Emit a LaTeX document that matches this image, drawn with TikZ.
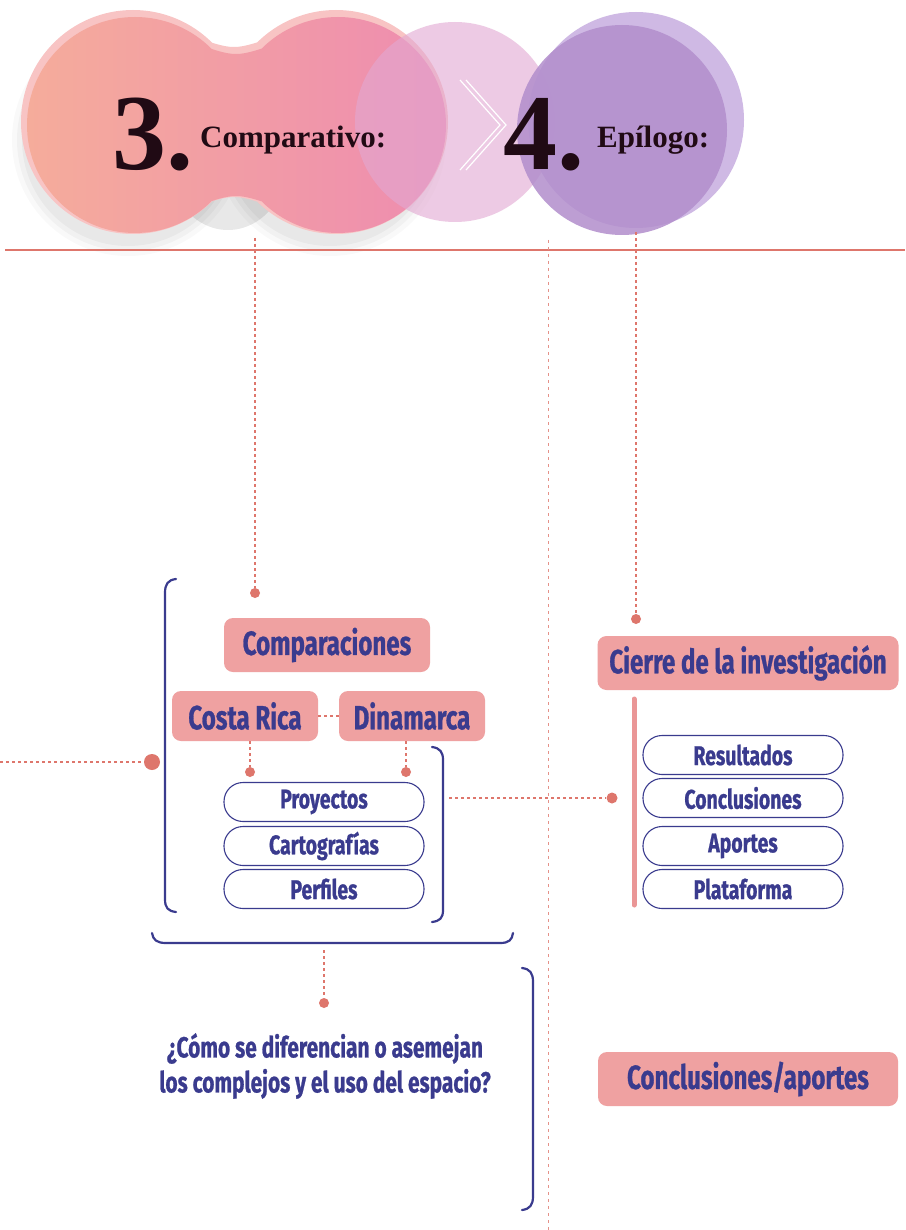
\documentclass[tikz,border=0pt]{standalone}
\usepackage{fontspec}
\usetikzlibrary{calc}
\newfontfamily\cond[FakeStretch=0.72, FakeBold=0.8]{Fira Sans}
\newfontfamily\headserif{Liberation Serif}
\definecolor{navy}{RGB}{58,59,142}
\definecolor{boxpink}{RGB}{239,161,161}
\definecolor{salmon}{RGB}{222,118,108}
\definecolor{barpink}{RGB}{234,150,150}
\definecolor{peachL}{RGB}{245,172,155}
\definecolor{peachR}{RGB}{238,140,176}
\definecolor{peachrim}{RGB}{248,196,196}
\definecolor{lilac}{RGB}{226,168,210}
\definecolor{purple}{RGB}{178,142,204}
\definecolor{purplerim}{RGB}{202,178,226}
\definecolor{ink}{RGB}{32,10,20}
\begin{document}
\begin{tikzpicture}[x=1pt,y=-1pt,
  pinkbox/.style={fill=boxpink, rounded corners=9pt, inner sep=0pt, text=navy,
    font=\cond\bfseries\fontsize{33.5}{36}\selectfont},
  pill/.style={draw=navy, line width=1.1pt, fill=white, rounded corners=19pt,
    minimum width=200pt, minimum height=39pt, inner sep=0pt, text=navy,
    font=\cond\bfseries\fontsize{27}{30}\selectfont},
  dots/.style={draw=salmon, line width=1.4pt, dash pattern=on 3pt off 3pt},
  faintdots/.style={draw=salmon!80, line width=1pt, dash pattern=on 3pt off 4pt},
  dotend/.style={circle, fill=salmon, inner sep=0pt, minimum size=10pt},
  bigdot/.style={circle, fill=salmon, inner sep=0pt, minimum size=16pt},
  bracket/.style={draw=navy, line width=2.2pt, line cap=round},
  head/.style={anchor=base west, text=ink, inner sep=0pt}]

\useasboundingbox (0,0) rectangle (905,1230);
\fill[white] (0,0) rectangle (905,1230);

% soft shadow under the bubbles
\foreach \r/\o in {116/0.025,111/0.03,106/0.035}{
  \fill[black, opacity=\o] (128,140) circle (\r);
  \fill[black, opacity=\o] (330,140) circle (\r);
  \fill[black, opacity=\o] (228,160) ellipse (60 and 70);
}

% bubble 3: two merged lobes
\def\peanut{(135,125) circle (108) (338,125) circle (108)
  (185,40) .. controls (212,49) and (224,54) .. (236,54) .. controls (248,54) and (260,49) .. (288,40)
  -- (288,210) .. controls (260,201) and (248,196) .. (236,196) .. controls (224,196) and (212,201) .. (185,210) -- cycle}
\fill[peachrim] [shift={(-2,-3)}] (135,125) circle (112) (338,125) circle (112)
  (185,36) .. controls (212,45) and (224,50) .. (236,50) .. controls (248,50) and (260,45) .. (288,36)
  -- (288,214) .. controls (260,205) and (248,200) .. (236,200) .. controls (224,200) and (212,205) .. (185,214) -- cycle;
\shade[left color=peachL, right color=peachR, nonzero rule] \peanut;

% middle bubble and bubble 4
\fill[lilac, opacity=0.6] (455,122) circle (100);
\fill[purplerim, opacity=0.9] (636,120) circle (108);
\fill[purple, opacity=0.85] (622,130) circle (105);

% chevron between the bubbles
\draw[white, line width=1.2pt] (460,80) -- (500,125) -- (460,170);
\draw[white, line width=1.2pt] (466,80) -- (506,125) -- (466,170);

% headings
\node[head, font=\headserif\bfseries\fontsize{108}{108}\selectfont] (n3) at (112,170) {3.};
\node[head, font=\headserif\bfseries\fontsize{31}{31}\selectfont] (h3) at (200,148) {Comparativo:};
\node[head, font=\headserif\bfseries\fontsize{108}{108}\selectfont] (n4) at (503,170) {4.};
\node[head, font=\headserif\bfseries\fontsize{31}{31}\selectfont] (h4) at (597,148) {Epílogo:};

% rule under the headings
\draw[salmon, line width=2pt] (5,250) -- (905,250);

% boxes
\node[pinkbox, minimum width=206pt, minimum height=54pt] (comp) at (327,645) {Comparaciones};
\node[pinkbox, minimum width=146pt, minimum height=50pt] (cr) at (245,716) {Costa Rica};
\node[pinkbox, minimum width=146pt, minimum height=50pt] (dk) at (412,716) {Dinamarca};
\node[pinkbox, minimum width=301pt, minimum height=54pt] (cierre) at (748,663) {Cierre de la investigación};
\node[pinkbox, minimum width=300pt, minimum height=54pt] (concl) at (748,1079) {Conclusiones/aportes};

% pills
\node[pill] (proy) at (324,802) {Proyectos};
\node[pill] (carto) at (324,846) {Cartografías};
\node[pill] (perf) at (324,889) {Perfiles};
\node[pill] (res) at (743,755) {Resultados};
\node[pill] (con) at (743,798) {Conclusiones};
\node[pill] (apo) at (743,846) {Aportes};
\node[pill] (pla) at (743,889) {Plataforma};

% question
\node[text=navy, align=center, font=\cond\bfseries\fontsize{29}{35}\selectfont] (q) at (325,1066)
  {¿Cómo se diferencian o asemejan\\los complejos y el uso del espacio?};

% pink bar beside the closing list
\draw[barpink, line width=5pt, line cap=round] (634,699) -- (634,905);

% brackets
\draw[bracket] (176,579) .. controls (168,580) and (165,584) .. (165,593) -- (165,899) .. controls (165,908) and (168,911) .. (176,912);
\draw[bracket] (432,747) .. controls (440,748) and (443,752) .. (443,760) -- (443,910) .. controls (443,918) and (440,921) .. (432,922);
\draw[bracket] (152,933) .. controls (153,940) and (157,943) .. (166,943) -- (500,943) .. controls (509,943) and (512,940) .. (513,933);
\draw[bracket] (522,968) .. controls (530,969) and (533,973) .. (533,982) -- (533,1196) .. controls (533,1205) and (530,1209) .. (522,1210);

% dotted connectors and their end dots
\coordinate (t3) at (255,238);
\node[dotend] (d3) at (255,593) {};
\draw[dots] (t3) -- (d3);

\coordinate (t4) at (636,232);
\node[dotend] (d4) at (636,619) {};
\draw[dots] (t4) -- (d4);

\coordinate (ttop) at (548,240);
\coordinate (tbot) at (548,1230);
\draw[faintdots] (ttop) -- (tbot);

\coordinate (lft) at (0,762);
\node[bigdot] (dl) at (152,762) {};
\draw[dots] (lft) -- (dl);

\draw[dots] (cr.east) -- (dk.west);

\node[dotend] (dcr) at (250,772) {};
\node[dotend] (ddk) at (406,772) {};
\draw[dots] (cr.south -| dcr) -- (dcr);
\draw[dots] (dk.south -| ddk) -- (ddk);

\coordinate (rb) at (449,798);
\node[dotend, minimum size=11pt] (dr) at (612,798) {};
\draw[dots] (rb) -- (dr);

\coordinate (bb) at (324,950);
\node[dotend] (dq) at (324,1003) {};
\draw[dots] (bb) -- (dq);
\end{tikzpicture}
\end{document}
